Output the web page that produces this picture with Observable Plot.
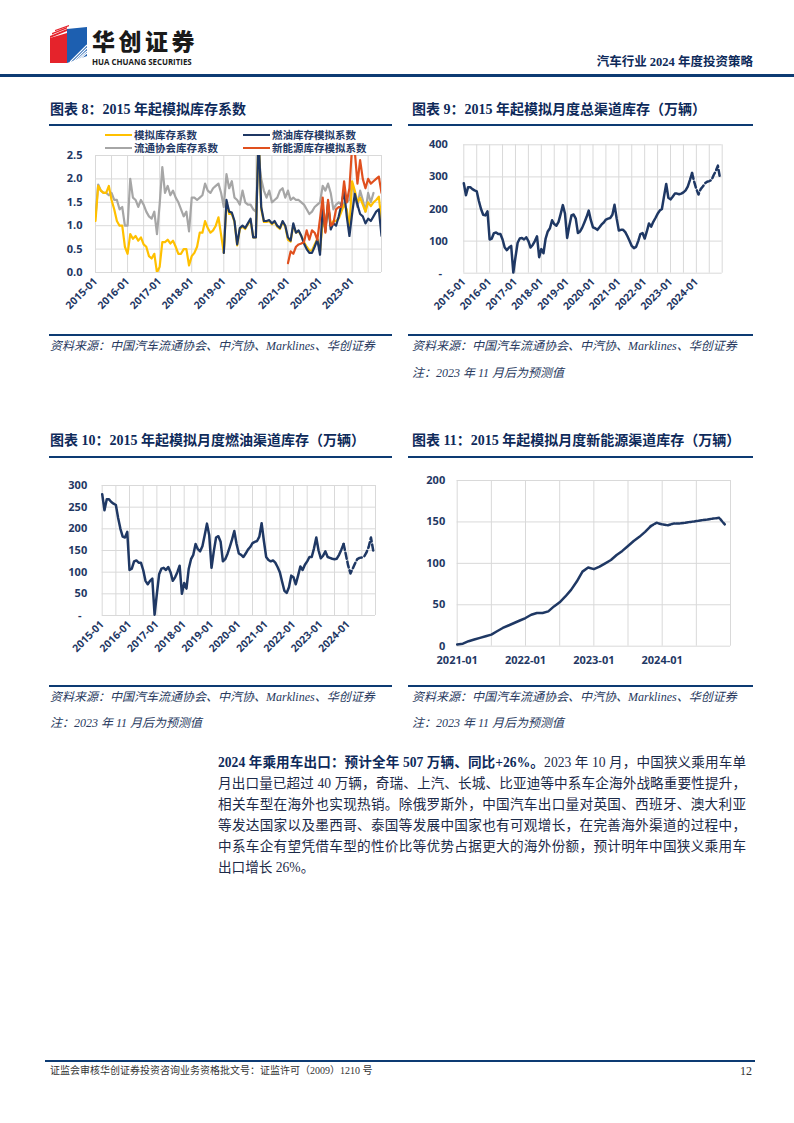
<!DOCTYPE html>
<html><head><meta charset="utf-8">
<script src="https://cdn.jsdelivr.net/npm/d3@7"></script>
<script src="https://cdn.jsdelivr.net/npm/@observablehq/plot@0.6"></script>
<style>
body{margin:0;background:#fff;}
#page{position:relative;width:794px;height:1123px;overflow:hidden;font-family:"Liberation Serif","Noto Sans CJK SC",serif;}
.abs{position:absolute;white-space:nowrap;}
.hline{position:absolute;background:#0d3b73;}
.title{font-size:14px;font-weight:700;color:#0e2a5a;line-height:16px;}
.src{font-size:12px;font-style:italic;color:#27395e;line-height:14px;}
.chart{position:absolute;}
.leg{position:absolute;font-family:"Noto Sans CJK SC",sans-serif;font-size:10.5px;font-weight:700;color:#1f3864;line-height:12px;white-space:nowrap;}
.sw{position:absolute;height:2.5px;width:27px;}
.para{position:absolute;left:218px;width:528px;font-size:13.6px;line-height:21px;color:#1c2a48;}
.para div{text-align:justify;text-align-last:justify;height:21px;}
.para div.last{text-align-last:left;}
</style></head>
<body><div id="page"></div>
<script>
// ---------------- DATA ----------------
// Chart 8: inventory coefficients, monthly from 2015-01 to 2023-12
const ticks8 = ["2015-01","2016-01","2017-01","2018-01","2019-01","2020-01","2021-01","2022-01","2023-01"];
const yTicks8 = [0, 0.5, 1, 1.5, 2, 2.5];
const yLabels8 = ["0.0","0.5","1.0","1.5","2.0","2.5"];
const simCoef = [
1.1,1.85,1.75,1.7,1.7,1.85,1.55,1.35,1.1,1.0,1.0,0.55,
0.4,0.82,0.72,0.78,0.68,0.75,0.6,0.55,0.35,0.3,0.4,0.0,
0.12,0.65,0.65,0.7,0.62,0.68,0.55,0.4,0.4,0.5,0.5,0.15,
0.35,0.42,0.55,0.85,0.85,1.1,0.95,0.85,0.9,1.0,1.18,0.8,
0.42,1.5,1.25,1.25,1.08,0.58,0.93,0.98,0.93,1.03,1.12,0.75,
0.75,3.0,1.35,1.08,1.08,1.1,1.03,1.08,0.98,0.93,1.08,0.98,
0.7,0.66,1.02,0.85,0.88,0.78,0.65,0.55,0.47,0.47,0.6,0.72,
0.45,1.1,0.95,1.45,1.0,1.1,1.1,1.15,1.3,1.45,1.35,0.95,
1.95,1.75,1.5,1.6,1.45,1.3,1.5,1.42,1.5,1.55,1.62,1.1];
const assocCoef = [
1.2,1.88,1.75,1.7,1.7,1.65,1.7,1.55,1.55,1.35,1.4,1.0,
1.0,2.0,1.6,1.55,1.4,1.55,1.45,1.3,1.2,1.15,1.3,0.82,
1.45,2.25,1.7,1.85,1.65,1.75,1.6,1.5,1.35,1.2,1.3,0.88,
1.6,1.6,1.55,1.6,1.65,1.9,1.75,1.7,1.8,1.85,1.9,1.7,
1.4,2.1,1.8,1.95,1.6,1.55,1.45,1.75,1.5,1.45,1.45,1.35,
1.3,2.5,2.0,1.75,1.6,1.75,1.5,1.55,1.6,1.75,1.8,1.6,
1.75,1.55,1.6,1.55,1.55,1.5,1.45,1.35,1.25,1.3,1.4,1.45,
1.5,1.85,1.75,1.9,1.7,1.35,1.45,1.5,1.45,1.5,1.5,1.55,
1.9,1.65,1.4,1.75,1.55,1.3,1.7,1.5,1.7,null,null,null];
const fuelCoef = [
null,null,null,null,null,null,null,null,null,null,null,null,
null,null,null,null,null,null,null,null,null,null,null,null,
null,null,null,null,null,null,null,null,null,null,null,null,
null,null,null,null,null,null,null,null,null,null,null,null,
0.42,1.55,1.3,1.28,1.1,0.6,0.95,1.0,0.95,1.05,1.15,0.75,
0.75,3.0,1.4,1.1,1.1,1.12,1.05,1.1,1.0,0.95,1.1,1.0,
0.75,0.68,1.05,0.85,0.9,0.78,0.62,0.5,0.42,0.42,0.55,0.7,
0.38,1.4,0.88,1.5,0.92,1.05,1.0,1.2,1.45,1.75,1.2,0.78,
1.25,1.68,1.45,1.25,1.2,1.05,1.15,1.1,1.2,1.3,1.35,0.78];
const nevCoef = [
null,null,null,null,null,null,null,null,null,null,null,null,
null,null,null,null,null,null,null,null,null,null,null,null,
null,null,null,null,null,null,null,null,null,null,null,null,
null,null,null,null,null,null,null,null,null,null,null,null,
null,null,null,null,null,null,null,null,null,null,null,null,
null,null,null,null,null,null,null,null,null,null,null,null,
0.2,0.45,0.4,0.55,0.6,0.62,0.65,0.9,0.7,0.9,0.85,0.7,
1.15,1.6,0.85,1.55,1.0,1.05,1.35,1.4,1.4,1.95,1.5,1.8,
2.7,2.6,1.9,2.4,2.0,1.8,2.0,1.9,1.95,2.0,2.05,1.7];
const legend8 = ["模拟库存系数","燃油库存模拟系数","流通协会库存系数","新能源库存模拟系数"];

// Charts 9 & 10: monthly 2015-01 to 2024-12 (万辆); forecasts after 2023-11
const ticks910 = ["2015-01","2016-01","2017-01","2018-01","2019-01","2020-01","2021-01","2022-01","2023-01","2024-01"];
const forecastFrom = "2023-11";
const yTicks9 = [0,100,200,300,400];
const yLabels9 = ["-","100","200","300","400"];
const totalStock = [
280,243,268,268,262,258,255,225,200,182,180,193,
105,108,125,127,122,122,105,80,72,80,85,2,
50,95,108,110,105,112,100,80,88,100,115,50,
75,62,108,130,140,165,153,148,160,185,212,185,
110,148,180,183,170,125,130,142,158,175,195,165,
143,140,135,143,152,158,167,170,172,182,213,170,
133,135,135,128,115,100,85,78,82,100,122,125,
108,130,155,145,160,172,185,195,200,240,278,235,
230,238,248,248,246,248,252,258,270,290,312,285,
262,245,262,270,280,285,287,290,305,318,335,295];
const yTicks10 = [0,50,100,150,200,250,300];
const yLabels10 = ["-","50","100","150","200","250","300"];
const fuelStock = [
280,243,268,268,262,258,255,225,200,182,180,193,
105,108,125,127,122,122,105,80,72,80,85,2,
50,95,108,110,105,112,100,80,88,100,115,50,
75,62,108,130,140,165,153,148,160,185,212,185,
110,148,180,183,170,125,130,142,158,175,195,165,
143,140,135,143,152,158,167,170,172,182,213,172,
135,128,125,127,122,112,100,78,57,52,65,92,
88,72,92,113,105,117,125,135,135,155,180,150,
132,138,148,135,133,131,130,131,140,152,165,140,
115,97,108,120,130,133,134,136,145,158,180,150];

// Chart 11: NEV channel stock, monthly 2021-01 to 2024-12
const ticks11 = ["2021-01","2022-01","2023-01","2024-01"];
const yTicks11 = [0,50,100,150,200];
const yLabels11 = ["0","50","100","150","200"];
const nevStock = [
2,3,6,8,10,12,14,18,22,25,28,31,
34,38,40,40,42,48,53,60,68,78,90,95,
93,96,100,104,110,115,121,127,132,138,145,149,
147,146,148,148,149,150,151,152,153,154,155,147];

// ---------------- HELPERS ----------------
const NAVY = "#1f3864", GRID = "#d9d9d9";
const page = document.getElementById("page");
function el(tag, cls, style, html){ const e=document.createElement(tag); if(cls) e.className=cls; Object.assign(e.style, style||{}); if(html!=null) e.innerHTML=html; page.appendChild(e); return e; }
function mIdx(label, startYear){ const [y,m]=label.split("-").map(Number); return (y-startYear)*12+(m-1); }
function rows(arr, from=0, to=Infinity){ return arr.map((v,i)=>({x:i,y:v})).filter(d=>d.x>=from && d.x<=to); }

function chart(o){
  const xt = o.xLabels.map(l=>mIdx(l,o.startYear));
  const xlab = new Map(xt.map((t,i)=>[t,o.xLabels[i]]));
  const ylab = new Map(o.yTicks.map((t,i)=>[t,o.yLabels[i]]));
  const gridX = d3.range(o.xDomain[0], o.xDomain[1], 6).concat([o.xDomain[1]]);
  const svg = Plot.plot({
    width:o.width, height:o.height,
    marginLeft:o.m[0], marginTop:o.m[1], marginRight:o.m[2], marginBottom:o.m[3],
    x:{domain:o.xDomain, label:null},
    y:{domain:[o.yTicks[0], o.yTicks[o.yTicks.length-1]], label:null},
    style:{fontFamily:"'Open Sans',sans-serif", fontSize:"11px", fontWeight:700, color:NAVY, background:"transparent", overflow:"visible"},
    marks:[
      Plot.ruleX(gridX,{stroke:GRID, strokeWidth:1}),
      Plot.ruleY(o.yTicks,{stroke:GRID, strokeWidth:1}),
      Plot.axisY(o.yTicks,{tickSize:0, tickPadding:o.yPad, label:null, tickFormat:d=>ylab.get(d)==="-"?"-\u00a0\u00a0":ylab.get(d)}),
      Plot.axisX(xt,{tickSize:0, tickPadding:o.xPad, tickRotate:o.rotate, label:null, fontSize:o.xFont, tickFormat:d=>xlab.get(d)}),
      ...o.series
    ]
  });
  const wrap = el("div","chart",{left:o.left+"px", top:o.top+"px"});
  wrap.appendChild(svg);
}

// ---------------- HEADER ----------------
el("div","",{position:"absolute",left:"0px",top:"0px"},
`<svg width="90" height="70" style="position:absolute;left:0;top:0">
  <polygon points="50,38 67,33 67,63 50,63" fill="#e5232b"/>
  <polygon points="50,36 67,29 67,31 50,38" fill="#e5232b"/>
  <polygon points="52,33 67,27 67,28.5 52,34.5" fill="#e5232b"/>
  <polygon points="55,30 69,25 69,26.3 55,31.3" fill="#e5232b"/>
  <polygon points="67,29 87,27 87,56 67,63" fill="#1d5fb0"/>
  <g stroke="#fff" stroke-width="1.1">
    <line x1="70" y1="62" x2="87" y2="45"/><line x1="73" y1="62" x2="87" y2="48"/>
    <line x1="76" y1="61" x2="87" y2="51"/><line x1="79" y1="60" x2="87" y2="53"/>
  </g>
</svg>`);
el("div","abs",{left:"92px",top:"29px",fontFamily:"'Noto Sans CJK SC',sans-serif",fontWeight:"900",fontSize:"23px",lineHeight:"23px",letterSpacing:"3.5px",color:"#1a1a1a"},"华创证券");
el("div","abs",{left:"92px",top:"58px",fontFamily:"'Open Sans',sans-serif",fontWeight:"700",fontSize:"7.9px",lineHeight:"9px",color:"#1a1a1a"},"HUA CHUANG SECURITIES");
el("div","abs",{right:"41px",top:"55px",fontSize:"12.5px",fontWeight:"700",lineHeight:"15px",color:"#0e2a5a"},"汽车行业 2024 年度投资策略");
el("div","hline",{left:"0px",top:"73.5px",width:"794px",height:"3px"});

// ---------------- TITLES & RULES ----------------
el("div","abs title",{left:"50px",top:"102px"},"图表 8：2015 年起模拟库存系数");
el("div","abs title",{left:"412px",top:"102px"},"图表 9：2015 年起模拟月度总渠道库存（万辆）");
el("div","hline",{left:"49px",top:"124px",width:"343px",height:"2px"});
el("div","hline",{left:"408px",top:"124px",width:"345px",height:"2px"});

el("div","abs title",{left:"50px",top:"433px"},"图表 10：2015 年起模拟月度燃油渠道库存（万辆）");
el("div","abs title",{left:"412px",top:"433px"},"图表 11：2015 年起模拟月度新能源渠道库存（万辆）");
el("div","hline",{left:"49px",top:"456px",width:"343px",height:"2px"});
el("div","hline",{left:"408px",top:"456px",width:"345px",height:"2px"});

// ---------------- CHART 8 ----------------
chart({left:40, top:140, width:350, height:195, m:[55,15,9,63], startYear:2015,
  xDomain:[0,107], xLabels:ticks8, yTicks:yTicks8, yLabels:yLabels8, yPad:13, xPad:7, rotate:-45, xFont:"10.5px",
  series:[
    Plot.line(rows(assocCoef),{x:"x",y:"y",stroke:"#a6a6a6",strokeWidth:2.2,clip:true}),
    Plot.line(rows(simCoef),{x:"x",y:"y",stroke:"#ffc000",strokeWidth:2.2,clip:true}),
    Plot.line(rows(fuelCoef),{x:"x",y:"y",stroke:NAVY,strokeWidth:2.2,clip:true}),
    Plot.line(rows(nevCoef),{x:"x",y:"y",stroke:"#e0501e",strokeWidth:2.2,clip:true})
  ]});
// legend 8
const legColors = ["#ffc000", NAVY, "#a6a6a6", "#e0501e"];
const legPos = [[105,135],[243,135],[105,148],[243,148]];
legend8.forEach((t,i)=>{
  el("div","sw",{left:legPos[i][0]+"px",top:(legPos[i][1]-1.25)+"px",background:legColors[i]});
  el("div","leg",{left:(legPos[i][0]+29)+"px",top:(legPos[i][1]-6)+"px"},t);
});

// ---------------- CHART 9 ----------------
const f910 = mIdx(forecastFrom,2015);
chart({left:405, top:130, width:350, height:205, m:[58.3,14.3,33.3,62.3], startYear:2015,
  xDomain:[0,120], xLabels:ticks910, yTicks:yTicks9, yLabels:yLabels9, yPad:16, xPad:7, rotate:-45, xFont:"10.5px",
  series:[
    Plot.line(rows(totalStock,0,f910),{x:"x",y:"y",stroke:NAVY,strokeWidth:2.5}),
    Plot.line(rows(totalStock,f910),{x:"x",y:"y",stroke:NAVY,strokeWidth:2.5,strokeDasharray:"6,3"})
  ]});

// ---------------- CHART 10 ----------------
chart({left:40, top:470, width:350, height:215, m:[61.7,15,15,70], startYear:2015,
  xDomain:[0,120], xLabels:ticks910, yTicks:yTicks10, yLabels:yLabels10, yPad:15, xPad:7, rotate:-45, xFont:"10.5px",
  series:[
    Plot.line(rows(fuelStock,0,f910),{x:"x",y:"y",stroke:NAVY,strokeWidth:2.5}),
    Plot.line(rows(fuelStock,f910),{x:"x",y:"y",stroke:NAVY,strokeWidth:2.5,strokeDasharray:"6,3"})
  ]});

// ---------------- CHART 11 ----------------
const f11 = mIdx(forecastFrom,2021);
chart({left:405, top:465, width:350, height:215, m:[51.7,15,25,34.3], startYear:2021,
  xDomain:[0,48], xLabels:ticks11, yTicks:yTicks11, yLabels:yLabels11, yPad:12, xPad:10, rotate:0, xFont:"11px",
  series:[
    Plot.line(rows(nevStock,0,f11),{x:"x",y:"y",stroke:NAVY,strokeWidth:2.5}),
    Plot.line(rows(nevStock,f11),{x:"x",y:"y",stroke:NAVY,strokeWidth:2.5,strokeDasharray:"3,1.5"})
  ]});

// ---------------- SOURCES ----------------
const srcText = "资料来源：中国汽车流通协会、中汽协、Marklines、华创证券";
const noteText = "注：2023 年 11 月后为预测值";
el("div","hline",{left:"49px",top:"334px",width:"343px",height:"2px"});
el("div","hline",{left:"408px",top:"334px",width:"345px",height:"2px"});
el("div","abs src",{left:"50px",top:"339px"},srcText);
el("div","abs src",{left:"412px",top:"339px"},srcText);
el("div","abs src",{left:"412px",top:"366px"},noteText);

el("div","hline",{left:"49px",top:"685px",width:"343px",height:"2px"});
el("div","hline",{left:"408px",top:"685px",width:"345px",height:"2px"});
el("div","abs src",{left:"50px",top:"690px"},srcText);
el("div","abs src",{left:"412px",top:"690px"},srcText);
el("div","abs src",{left:"50px",top:"716px"},noteText);
el("div","abs src",{left:"412px",top:"716px"},noteText);

// ---------------- BODY ----------------
el("div","para",{top:"752px"},
`<div><b style="color:#0e2a5a">2024 年乘用车出口：预计全年 507 万辆、同比+26%。</b>2023 年 10 月，中国狭义乘用车单</div>
<div>月出口量已超过 40 万辆，奇瑞、上汽、长城、比亚迪等中系车企海外战略重要性提升，</div>
<div>相关车型在海外也实现热销。除俄罗斯外，中国汽车出口量对英国、西班牙、澳大利亚</div>
<div>等发达国家以及墨西哥、泰国等发展中国家也有可观增长，在完善海外渠道的过程中，</div>
<div>中系车企有望凭借车型的性价比等优势占据更大的海外份额，预计明年中国狭义乘用车</div>
<div class="last">出口增长 26%。</div>`);

// ---------------- FOOTER ----------------
el("div","hline",{left:"45px",top:"1060px",width:"710px",height:"2px"});
el("div","abs",{left:"50px",top:"1065px",fontSize:"10px",lineHeight:"12px",color:"#333"},"证监会审核华创证券投资咨询业务资格批文号：证监许可（2009）1210 号");
el("div","abs",{left:"740px",top:"1064px",fontSize:"12px",lineHeight:"14px",color:"#333"},"12");
</script></body></html>
